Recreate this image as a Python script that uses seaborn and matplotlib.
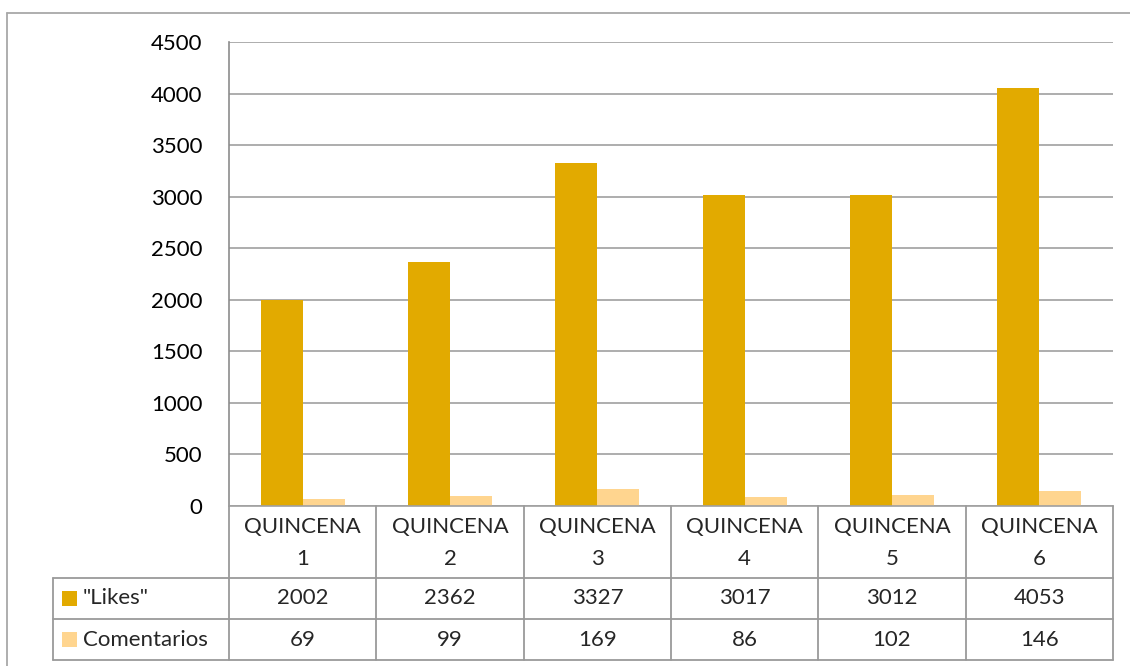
import numpy as np
import pandas as pd
import matplotlib.pyplot as plt
import seaborn as sns
from matplotlib.lines import Line2D
from matplotlib.patches import Rectangle

# data
quincenas = ["QUINCENA\n1", "QUINCENA\n2", "QUINCENA\n3", "QUINCENA\n4", "QUINCENA\n5", "QUINCENA\n6"]
likes = [2002, 2362, 3327, 3017, 3012, 4053]
comentarios = [69, 99, 169, 86, 102, 146]
series_names = ['"Likes"', "Comentarios"]
colors = ["#E2AA00", "#FFD58F"]

df = pd.DataFrame({
    "quincena": quincenas * 2,
    "serie": [series_names[0]] * len(likes) + [series_names[1]] * len(comentarios),
    "valor": likes + comentarios,
})

sns.set_style("white")
plt.rcParams["font.family"] = ["Lato", "DejaVu Sans"]

W, H = 1130, 666
fig = plt.figure(figsize=(W / 100, H / 100), dpi=100)

def fx(x):
    return x / W

def fy(y):
    return 1 - y / H

# plot area in pixels
x0, x1, y0, y1 = 229, 1113, 42, 506
ax = fig.add_axes([fx(x0), fy(y1), fx(x1) - fx(x0), fy(y0) - fy(y1)])

sns.barplot(data=df, x="quincena", y="valor", hue="serie", palette=colors,
            width=0.57, gap=0, linewidth=0, saturation=1, ax=ax, legend=False)

ax.set_ylim(0, 4500)
ax.set_xlim(-0.5, len(quincenas) - 0.5)
ax.set_yticks(np.arange(0, 4501, 500))
ax.set_xticks([])
ax.set_xlabel("")
ax.set_ylabel("")
ax.tick_params(axis="y", labelsize=16, length=0, pad=19, colors="black")
ax.yaxis.grid(True, color="#A0A0A0", linewidth=1.2)
ax.set_axisbelow(True)
for side in ["top", "right"]:
    ax.spines[side].set_visible(False)
ax.spines["left"].set_color("#8C8C8C")
ax.spines["bottom"].set_color("#A0A0A0")
ax.spines["left"].set_linewidth(1.2)
ax.spines["bottom"].set_linewidth(1.2)

gray = "#9A9A9A"

def hline(xa, xb, y, c=gray):
    fig.add_artist(Line2D([fx(xa), fx(xb)], [fy(y), fy(y)], color=c, lw=1.3))

def vline(x, ya, yb, c=gray):
    fig.add_artist(Line2D([fx(x), fx(x)], [fy(ya), fy(yb)], color=c, lw=1.3))

# outer chart border
hline(7, W, 13, "#A8A8A8")
vline(7, 13, H, "#A8A8A8")

# data table under the axis
tab_left = 53
row_h = [506, 578, 619, 660]
col_w = (x1 - x0) / len(quincenas)
col_edges = [x0 + i * col_w for i in range(len(quincenas) + 1)]

vline(x0, y1, row_h[3])
for e in col_edges[1:]:
    vline(e, y1, row_h[3])
vline(tab_left, row_h[1], row_h[3])
for y in row_h[1:]:
    hline(tab_left, x1, y)

fs = 16
for i, q in enumerate(quincenas):
    cx = (col_edges[i] + col_edges[i + 1]) / 2
    fig.text(fx(cx), fy((row_h[0] + row_h[1]) / 2 + 1), q, ha="center", va="center",
             fontsize=fs, linespacing=1.8)
    fig.text(fx(cx), fy((row_h[1] + row_h[2]) / 2), str(likes[i]), ha="center", va="center", fontsize=fs)
    fig.text(fx(cx), fy((row_h[2] + row_h[3]) / 2), str(comentarios[i]), ha="center", va="center", fontsize=fs)

for r, (name, c) in enumerate(zip(series_names, colors)):
    yc = (row_h[r + 1] + row_h[r + 2]) / 2
    fig.add_artist(Rectangle((fx(62), fy(yc + 7.5)), fx(15), 15 / H, color=c, lw=0))
    fig.text(fx(83), fy(yc), name, ha="left", va="center", fontsize=fs)

fig.savefig("out.png", dpi=100)
